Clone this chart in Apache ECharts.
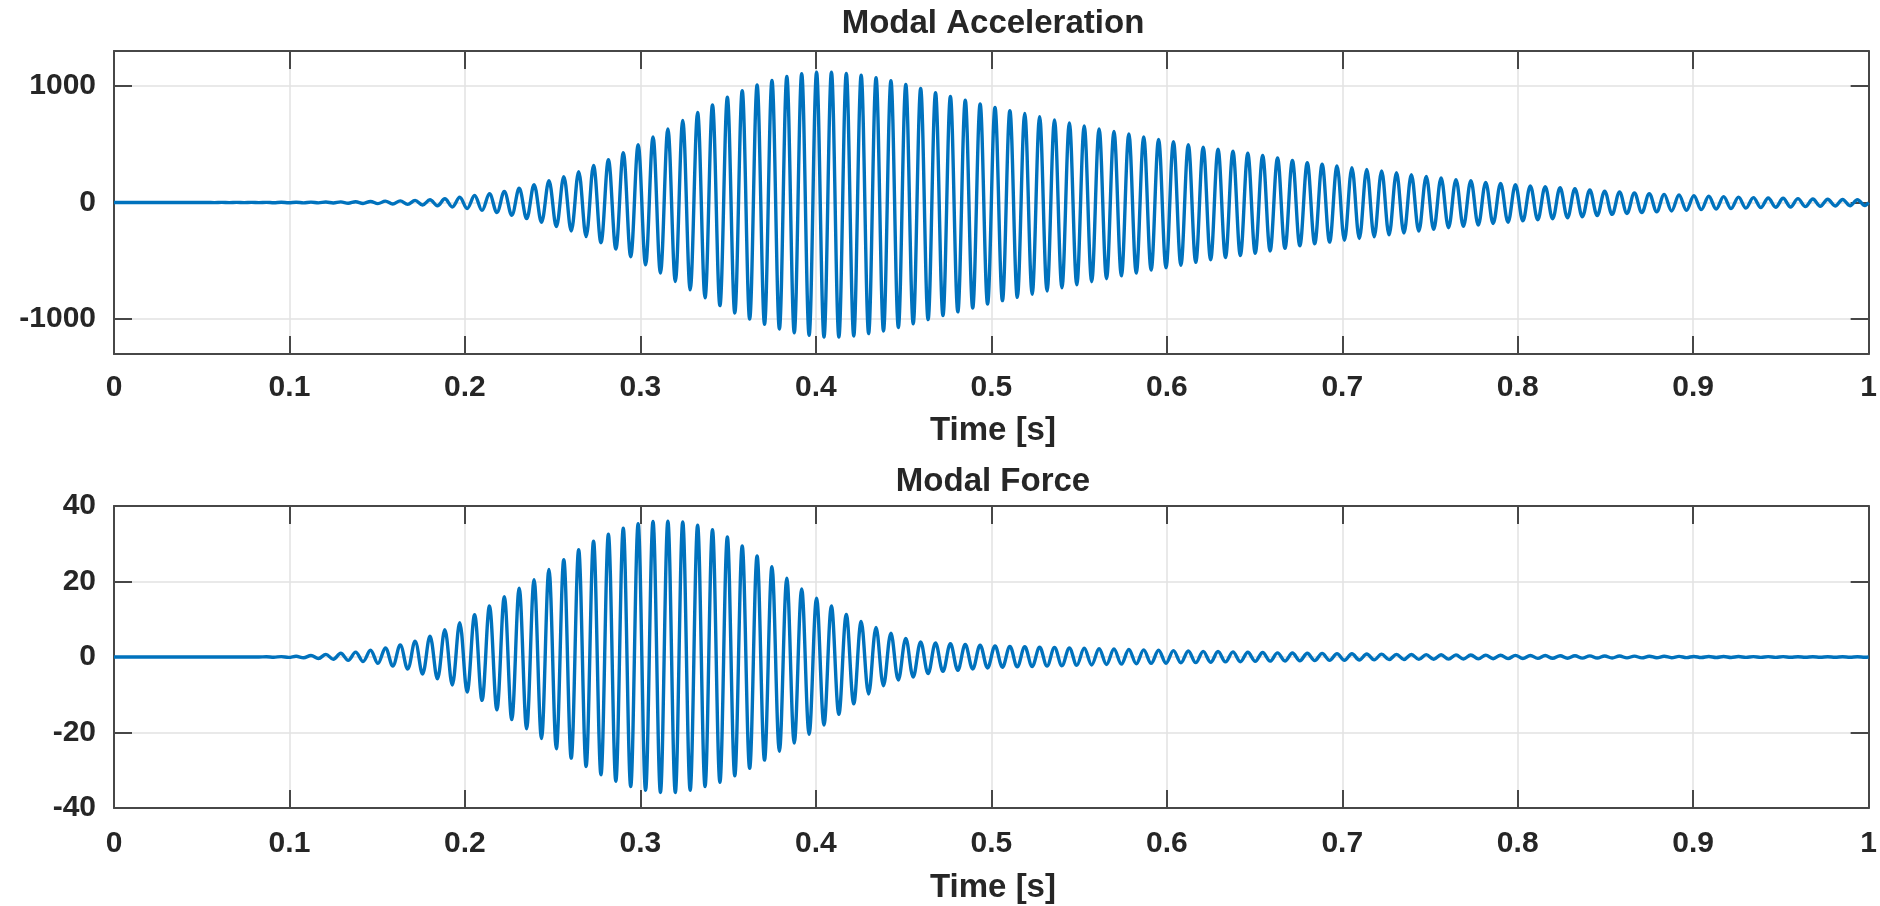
<!DOCTYPE html>
<html>
<head>
<meta charset="utf-8">
<script src="https://cdn.jsdelivr.net/npm/echarts@6/dist/echarts.min.js"></script>
<style>
  html, body { margin: 0; padding: 0; background: #ffffff; }
  #chart { width: 1880px; height: 906px; }
</style>
</head>
<body>
<div id="chart"></div>
<script>
// ---- values ----
// oscillation: about 118 cycles per second; one positive and one negative peak per cycle
const cyclesPerSecond = 118;
const firstPeakTime = 0.0021;

// Modal Acceleration: positive peak heights per cycle
const accPos = [
  0,0,0,0,0,0,0,1,1,1,
  1,2,2,3,4,5,7,9,
  12,14,18,24,32,45,60,75,95,122,
  152,186,222,265,318,368,428,496,562,632,703,772,
  838,903,960,1008,1048,1082,1106,1118,1118,1108,
  1092,1070,1045,1012,978,942,910,878,846,815,
  788,764,736,708,682,657,632,610,588,562,
  542,522,496,475,457,440,422,403,382,360,
  342,328,314,299,284,270,255,238,223,210,
  196,187,173,163,152,143,136,127,118,107,
  98,90,83,76,70,64,58,54,50,46,
  42,39,36,33,30,28,26,24
];
// Modal Acceleration: negative peak depths per cycle
const accNeg = [
  0,0,0,0,0,0,1,1,1,1,
  2,2,3,3,4,6,8,10,
  13,16,21,28,38,52,68,86,110,138,
  170,206,245,292,345,400,465,535,605,678,750,818,
  885,948,1000,1045,1085,1118,1140,1155,1155,1145,
  1125,1102,1072,1040,1005,970,938,905,872,842,
  814,788,760,732,706,680,654,630,606,580,
  560,538,514,492,472,455,436,416,394,372,
  354,340,324,310,294,278,262,246,231,217,
  204,193,180,169,158,148,140,131,122,112,
  102,94,86,79,73,67,61,56,52,48,
  44,41,38,35,32,30,28,26
];
// Modal Force: positive peak heights per cycle
const forcePos = [
  0,0,0,0,0,0,0,0,0,0,0.05,0.1,
  0.2,0.4,0.7,1.0,1.3,1.8,2.4,3.2,4.2,5.5,
  7.2,9.1,11.2,13.5,16.0,18.2,20.5,23.2,25.8,28.4,
  30.7,32.5,34.1,35.3,35.9,36.0,35.8,34.9,33.7,31.8,
  29.4,26.8,23.9,20.9,18.0,15.6,13.5,11.3,9.4,7.8,
  6.3,4.9,4.0,3.7,3.5,3.3,3.1,2.9,2.8,2.7,
  2.6,2.5,2.4,2.3,2.2,2.1,2.0,1.9,1.8,1.7,
  1.6,1.5,1.45,1.35,1.25,1.2,1.1,1.05,1.0,0.95,
  0.9,0.85,0.8,0.75,0.7,0.67,0.63,0.6,0.56,0.53,
  0.5,0.47,0.44,0.41,0.38,0.35,0.32,0.3,0.27,0.25,
  0.23,0.21,0.19,0.17,0.15,0.14,0.13,0.12,0.11,0.1,
  0.09,0.08,0.07,0.07,0.06,0.06
];
// Modal Force: negative peak depths per cycle
const forceNeg = [
  0,0,0,0,0,0,0,0,0,0,0.05,0.1,
  0.2,0.4,0.6,0.9,1.2,1.7,2.4,3.2,4.5,5.8,
  7.4,9.3,11.5,14.0,16.6,19.0,21.6,24.3,26.8,29.0,
  31.2,32.9,34.3,35.3,35.9,35.9,35.3,34.3,33.2,31.5,
  29.5,27.3,25.0,22.8,20.5,18.0,15.2,12.4,9.8,7.6,
  6.1,5.3,4.4,3.8,3.5,3.2,2.9,2.7,2.6,2.5,
  2.4,2.3,2.2,2.1,2.0,1.9,1.8,1.7,1.65,1.55,
  1.5,1.4,1.3,1.25,1.15,1.1,1.05,1.0,0.95,0.9,
  0.85,0.8,0.75,0.7,0.66,0.62,0.58,0.55,0.52,0.49,
  0.46,0.43,0.4,0.37,0.34,0.32,0.3,0.28,0.26,0.24,
  0.22,0.2,0.18,0.16,0.14,0.13,0.12,0.11,0.1,0.09,
  0.08,0.08,0.07,0.06,0.06,0.05
];

const timeRange = [0, 1];
const timeStep = 0.1;
const accRange = [-1300, 1300];
const forceRange = [-40, 40];
const forceStep = 20;

const titles = ['Modal Acceleration', 'Modal Force'];
const xName = 'Time [s]';

// ---- build ----
function buildSeries(pos, neg) {
  const T = 1 / cyclesPerSecond;
  const data = [[timeRange[0], 0]];
  for (let i = 0; i < pos.length; i++) {
    const tp = firstPeakTime + i * T;
    data.push([tp, pos[i]]);
    const tn = tp + T / 2;
    if (tn < timeRange[1]) data.push([tn, -neg[i]]);
  }
  data.push([timeRange[1], 0]);
  return data;
}

const FONT = '"Liberation Sans", Arial, Helvetica, sans-serif';
const TEXT = '#262626';
const AXIS = '#474747';
const GRIDC = '#e2e2e2';
const LINE = '#0072BD';

const axisLine = { show: true, onZero: false, lineStyle: { color: AXIS, width: 2 } };
const axisTick = { show: true, inside: true, length: 18, lineStyle: { color: AXIS, width: 2 } };
const splitLine = { show: true, lineStyle: { color: GRIDC, width: 1.5 } };
const labelStyle = { color: TEXT, fontFamily: FONT, fontWeight: 'bold', fontSize: 30 };

function xAxes(gridIndex, margin) {
  return [
    { type: 'value', gridIndex, position: 'bottom', min: timeRange[0], max: timeRange[1], interval: timeStep,
      axisLine, axisTick, splitLine,
      axisLabel: Object.assign({ margin, formatter: v => String(Math.round(v * 10) / 10) }, labelStyle) },
    { type: 'value', gridIndex, position: 'top', min: timeRange[0], max: timeRange[1], interval: timeStep,
      axisLine, axisTick, splitLine: { show: false }, axisLabel: { show: false } }
  ];
}

const option = {
  animation: false,
  backgroundColor: '#ffffff',
  grid: [
    { left: 114, right: 7, top: 51, height: 303 },
    { left: 114, right: 7, top: 506, height: 302 }
  ],
  xAxis: [].concat(xAxes(0, 19), xAxes(1, 21)),
  yAxis: [
    { type: 'value', gridIndex: 0, position: 'left', min: accRange[0], max: accRange[1], splitNumber: 3,
      axisLine, axisTick, splitLine,
      axisLabel: Object.assign({ margin: 18, showMinLabel: false, showMaxLabel: false, formatter: v => String(v) }, labelStyle) },
    { type: 'value', gridIndex: 0, position: 'right', min: accRange[0], max: accRange[1], splitNumber: 3,
      axisLine, axisTick, splitLine: { show: false }, axisLabel: { show: false } },
    { type: 'value', gridIndex: 1, position: 'left', min: forceRange[0], max: forceRange[1], interval: forceStep,
      axisLine, axisTick, splitLine,
      axisLabel: Object.assign({ margin: 18, formatter: v => String(v) }, labelStyle) },
    { type: 'value', gridIndex: 1, position: 'right', min: forceRange[0], max: forceRange[1], interval: forceStep,
      axisLine, axisTick, splitLine: { show: false }, axisLabel: { show: false } }
  ],
  series: [
    { type: 'line', xAxisIndex: 0, yAxisIndex: 0, data: buildSeries(accPos, accNeg),
      showSymbol: false, smooth: 0.36, silent: true, clip: true,
      lineStyle: { color: LINE, width: 3.4 } },
    { type: 'line', xAxisIndex: 2, yAxisIndex: 2, data: buildSeries(forcePos, forceNeg),
      showSymbol: false, smooth: 0.36, silent: true, clip: true,
      lineStyle: { color: LINE, width: 3.4 } }
  ],
  graphic: [
    { type: 'text', x: 993, y: 24, style: { text: titles[0], fill: TEXT, font: 'bold 33px ' + FONT, align: 'center', verticalAlign: 'middle' } },
    { type: 'text', x: 993, y: 431, style: { text: xName, fill: TEXT, font: 'bold 33px ' + FONT, align: 'center', verticalAlign: 'middle' } },
    { type: 'text', x: 993, y: 482, style: { text: titles[1], fill: TEXT, font: 'bold 33px ' + FONT, align: 'center', verticalAlign: 'middle' } },
    { type: 'text', x: 993, y: 888, style: { text: xName, fill: TEXT, font: 'bold 33px ' + FONT, align: 'center', verticalAlign: 'middle' } }
  ]
};

const chart = echarts.init(document.getElementById('chart'), null, { renderer: 'canvas' });
chart.setOption(option);
</script>
</body>
</html>
